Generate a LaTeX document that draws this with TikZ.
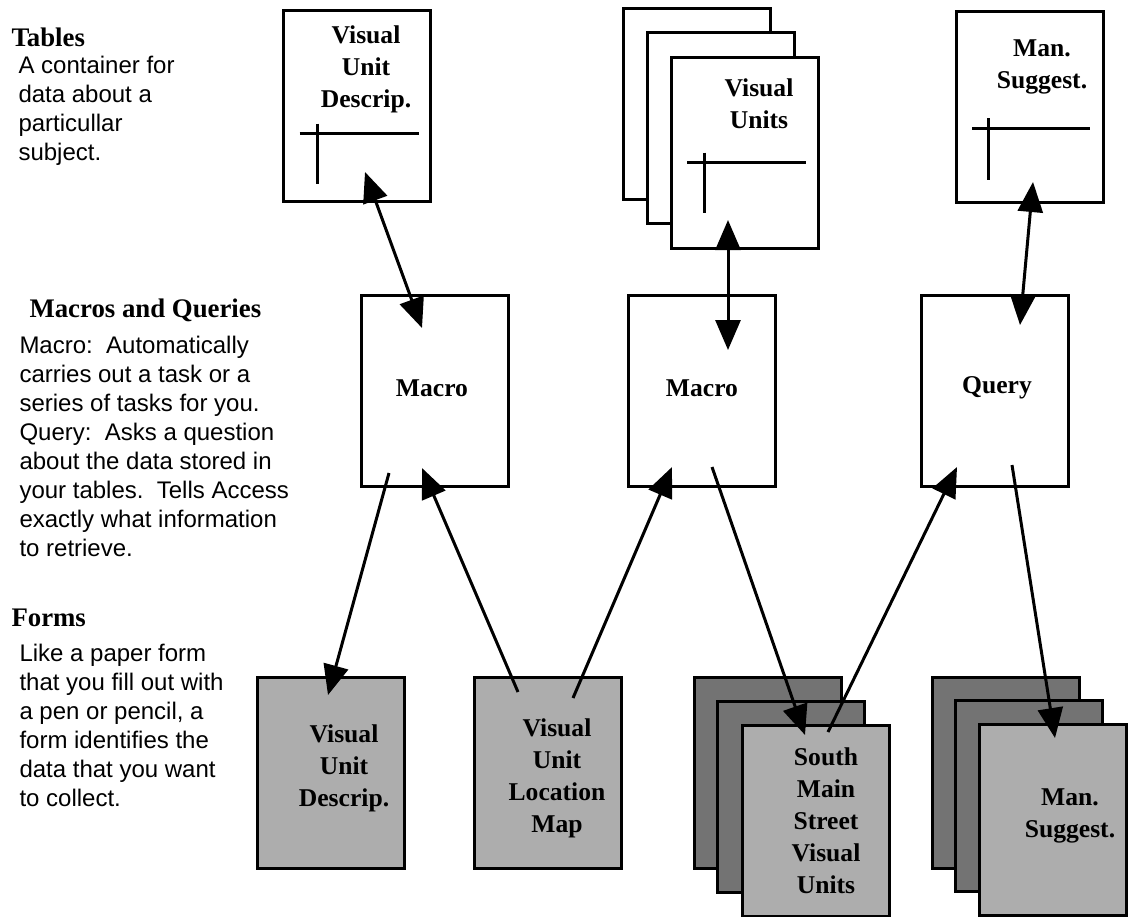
\documentclass[tikz,border=0pt]{standalone}
\usepackage{fontspec}
\setmainfont{Liberation Serif}
\setsansfont{Liberation Sans}
\usetikzlibrary{arrows.meta,positioning,calc}

\begin{document}
\begin{tikzpicture}[x=0.5pt, y=-0.5pt, >={Triangle[length=15pt,width=12.5pt]}, line width=1.5pt,
  sheet/.style={draw, fill=white, minimum width=73.5pt, minimum height=95.5pt, inner sep=0pt},
  form/.style={sheet, fill=black!32},
  backform/.style={sheet, fill=black!55},
  lbl/.style={font=\fontsize{12.8}{16}\selectfont\bfseries, align=center, inner sep=0pt},
  head/.style={font=\fontsize{13.4}{16}\selectfont\bfseries, anchor=west, inner sep=0pt},
  body/.style={font=\sffamily\fontsize{12}{14.5}\selectfont, align=left, anchor=north west, inner sep=0pt}]
\useasboundingbox (0,0) rectangle (1128,916);

% left column
\node[head] (tabhead) at (10,37) {Tables};
\node[body] (tabtext) at (17,55) {A container for\\data about a\\particullar\\subject.};
\node[head] (machead) at (28,310) {Macros and Queries};
\node[body] (mactext) at (18,335) {Macro:\ \ Automatically\\carries out a task or a\\series of tasks for you.\\Query:\ \ Asks a question\\about the data stored in\\your tables.\ \ Tells Access\\exactly what information\\to retrieve.};
\node[head] (formhead) at (10,618) {Forms};
\node[body] (formtext) at (18,643) {Like a paper form\\that you fill out with\\a pen or pencil, a\\form identifies the\\data that you want\\to collect.};

% tables
\node[sheet] (tab1) at (356.5,105.5) {};
\node[lbl] (tab1txt) at (366,69) {Visual\\Unit\\Descrip.};
\draw ($(tab1)+(-57,28)$) -- +(119,0) ($(tab1)+(-39,18)$) -- +(0,60);

\node[sheet] (tab2a) at (697,104) {};
\node[sheet] (tab2b) at (721,128) {};
\node[sheet] (tab2) at (745,152.5) {};
\node[lbl] (tab2txt) at (759,104) {Visual\\Units};
\draw ($(tab2)+(-58,9.5)$) -- +(119,0) ($(tab2)+(-41,0)$) -- +(0,60);

\node[sheet] (tab3) at (1029.5,107) {};
\node[lbl] (tab3txt) at (1042,67) {Man.\\Suggest.};
\draw ($(tab3)+(-57.5,21)$) -- +(118,0) ($(tab3)+(-41.5,11)$) -- +(0,62);

% macros and query
\node[sheet] (mac1) at (434.5,391) {};
\node[lbl] (mac1txt) at (432,388) {Macro};
\node[sheet] (mac2) at (701.5,391) {};
\node[lbl] (mac2txt) at (702,388) {Macro};
\node[sheet] (qry) at (994.5,391) {};
\node[lbl] (qrytxt) at (997,388) {Query};

% forms
\node[form] (form1) at (330.5,772.5) {};
\node[lbl] (form1txt) at (344,768) {Visual\\Unit\\Descrip.};
\node[form] (form2) at (547.5,772.5) {};
\node[lbl] (form2txt) at (557,778) {Visual\\Unit\\Location\\Map};
\node[backform] (form3a) at (768,772.5) {};
\node[backform] (form3b) at (791,797) {};
\node[form] (form3) at (816,820.5) {};
\node[lbl] (form3txt) at (826,821) {South\\Main\\Street\\Visual\\Units};
\node[backform] (form4a) at (1005.5,772.5) {};
\node[backform] (form4b) at (1029,795.5) {};
\node[form] (form4) at (1052.5,819.5) {};
\node[lbl] (form4txt) at (1070,816) {Man.\\Suggest.};

% links
\draw[<->] ($(tab1)+(8.5,66.5)$) -- ($(mac1)+(-12.5,-63)$);
\draw[<->] ($(tab2)+(-17,67.5)$) -- ($(mac2)+(26.5,-41)$);
\draw[<->] ($(tab3)+(3.5,75)$) -- ($(qry)+(25.5,-66)$);
\draw[->] ($(mac1)+(-45.5,82)$) -- ($(form1)+(-2.5,-77.5)$);
\draw[->] ($(form2)+(-29.5,-80.5)$) -- ($(mac1)+(-12.5,77)$);
\draw[->] ($(form2)+(25.5,-74.5)$) -- ($(mac2)+(-29.5,76)$);
\draw[->] ($(mac2)+(10.5,76)$) -- ($(form3)+(-11,-85.5)$);
\draw[->] ($(form3)+(12,-88.5)$) -- ($(qry)+(-37.5,76)$);
\draw[->] ($(qry)+(17.5,74)$) -- ($(form4)+(2.5,-81.5)$);
\end{tikzpicture}
\end{document}
